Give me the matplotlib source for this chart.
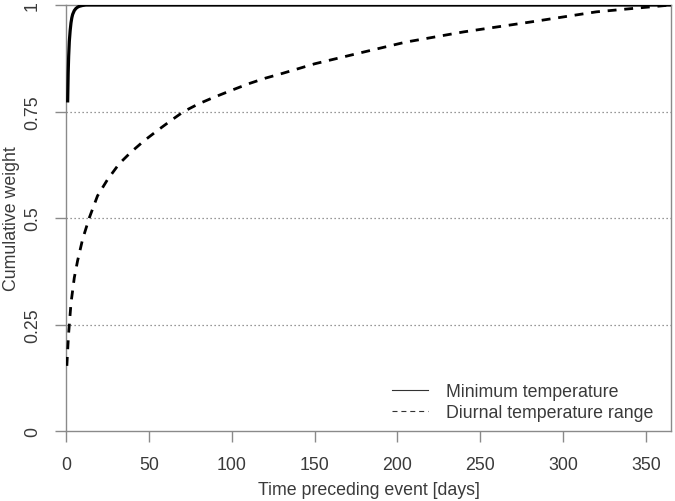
import matplotlib
matplotlib.use("Agg")
import matplotlib.pyplot as plt
from matplotlib.lines import Line2D

plt.rcParams['font.family'] = ['Liberation Sans', 'DejaVu Sans']

# minimum temperature
min_days = [1, 1.3, 1.6, 2, 2.5, 3, 3.5, 4, 5, 6, 7, 8, 10, 12, 15, 20, 365]
min_weight = [0.775, 0.84, 0.88, 0.915, 0.94, 0.958, 0.97, 0.978, 0.987, 0.992,
              0.995, 0.997, 0.999, 1.0, 1.0, 1.0, 1.0]

# diurnal temperature range
dtr_days = [0.5, 1, 1.5, 2, 3, 4, 5, 7, 10, 14, 19, 25, 32, 39, 47, 55, 63, 71,
            80, 89, 100, 110, 120, 131, 150, 180, 205, 240, 280, 320, 345, 365]
dtr_weight = [0.153, 0.19, 0.225, 0.25, 0.30, 0.33, 0.36, 0.40, 0.45, 0.50, 0.552,
              0.59, 0.627, 0.654, 0.681, 0.705, 0.728, 0.75, 0.768, 0.783, 0.80,
              0.815, 0.828, 0.84, 0.862, 0.89, 0.913, 0.937, 0.96, 0.984, 0.993, 1.0]

x_ticks = [0, 50, 100, 150, 200, 250, 300, 350]
y_ticks = [0, 0.25, 0.5, 0.75, 1]
y_labels = ['0', '0.25', '0.5', '0.75', '1']
grid_levels = [0.25, 0.5, 0.75]

gray = '#8a8a8a'
txt = '#3a3a3a'
fs = 12.8

fig = plt.figure(figsize=(6.75, 5.02), dpi=100)
ax = fig.add_axes([0.0978, 0.1394, 0.8962, 0.8486])

for g in grid_levels:
    ax.axhline(g, color='#777777', lw=0.9, ls=(0, (1, 2.2)), zorder=1)

ax.plot(dtr_days, dtr_weight, color='black', lw=2.0, ls=(0, (3.2, 2.8)), zorder=3)
ax.plot(min_days, min_weight, color='black', lw=2.3, zorder=3)

ax.set_xlim(0, 365)
ax.set_ylim(0, 1)
ax.set_xticks(x_ticks)
ax.set_yticks(y_ticks)
ax.set_yticklabels(y_labels, rotation=90, va='center')
for s in ax.spines.values():
    s.set_color(gray)
    s.set_linewidth(1.0)
ax.tick_params(axis='both', length=8, width=1.0, color=gray, labelcolor=txt,
               labelsize=fs, pad=10)

ax.set_xlabel('Time preceding event [days]', fontsize=fs, color=txt, labelpad=6)
ax.set_ylabel('Cumulative weight', fontsize=fs, color=txt, labelpad=3)

handles = [Line2D([], [], color='#333333', lw=0.8),
           Line2D([], [], color='#333333', lw=0.8, ls=(0, (4.5, 3.5)))]
ax.legend(handles, ['Minimum temperature', 'Diurnal temperature range'],
          loc='lower right', bbox_to_anchor=(0.982, 0.006), frameon=False,
          fontsize=fs, labelcolor=txt, handlelength=2.0, handletextpad=1.0,
          borderaxespad=0, labelspacing=0.25)

fig.savefig('out.png', dpi=100)
